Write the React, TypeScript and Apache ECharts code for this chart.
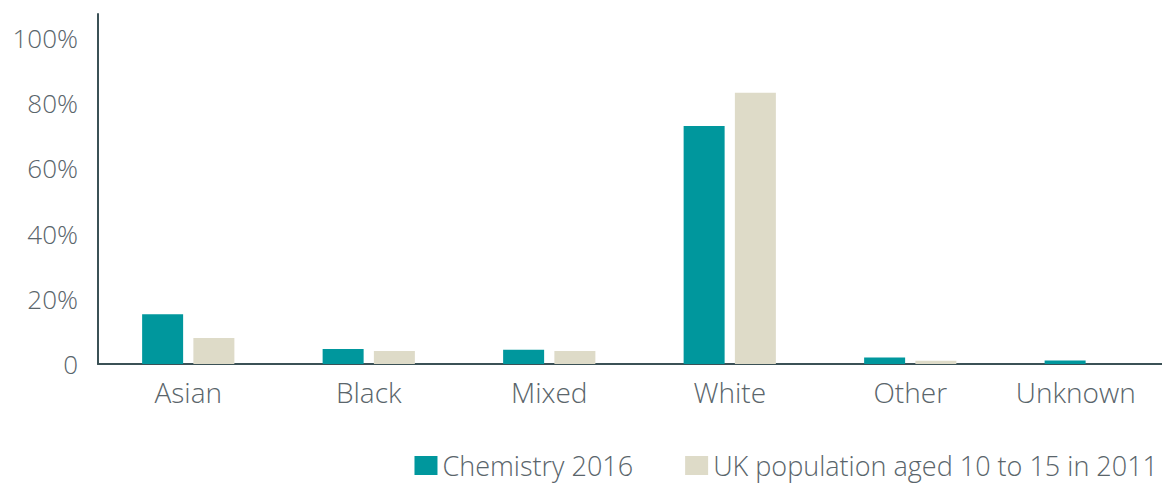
import React, { useEffect, useRef } from "react";
import * as echarts from "echarts";

const categories = ["Asian", "Black", "Mixed", "White", "Other", "Unknown"];
const chemistry2016 = [15.3, 4.6, 4.4, 73.0, 2.0, 1.1];
const ukPopulation = [8.0, 4.0, 4.0, 83.2, 1.0, 0];
const seriesNames = ["Chemistry 2016", "UK population aged 10 to 15 in 2011"];

const FONT = "Open Sans";
const TEXT = "#5a656b";

export default function App() {
  const ref = useRef<HTMLDivElement>(null);
  useEffect(() => {
    if (!ref.current) return;
    const chart = echarts.init(ref.current, undefined, { renderer: "svg" });
    chart.setOption({
      animation: false,
      grid: { left: 98, width: 1083, top: 14, bottom: 120, containLabel: false, outerBoundsMode: "none" },
      legend: {
        right: -1,
        bottom: 0,
        itemWidth: 23,
        itemHeight: 19,
        itemGap: 52,
        icon: "rect",
        textStyle: { fontFamily: FONT, fontSize: 27, lineHeight: 20, fontWeight: 300, color: TEXT, padding: [0, 0, 0, 0] },
        data: seriesNames,
      },
      xAxis: {
        type: "category",
        data: categories.map((c, i) =>
          i === categories.length - 1 ? { value: c, textStyle: { padding: [0, 30, 0, 0] } } : c
        ),
        axisLine: { show: true, lineStyle: { color: "#3b5156", width: 2 } },
        axisTick: { show: false },
        axisLabel: { fontFamily: FONT, fontSize: 28, fontWeight: 300, color: TEXT, margin: 14 },
      },
      yAxis: {
        type: "value",
        min: 0,
        max: 107.4,
        interval: 20,
        axisLine: { show: true, lineStyle: { color: "#3b5156", width: 2 } },
        axisTick: { show: false },
        splitLine: { show: false },
        axisLabel: {
          showMaxLabel: false,
          fontFamily: FONT,
          fontSize: 26,
          fontWeight: 300,
          color: TEXT,
          margin: 20,
          formatter: (v: number) => (v === 0 ? "0" : `${v}%`),
        },
      },
      series: [
        {
          name: seriesNames[0],
          type: "bar",
          data: chemistry2016,
          barWidth: 41,
          barGap: "25%",
          itemStyle: { color: "#00979d" },
        },
        {
          name: seriesNames[1],
          type: "bar",
          data: ukPopulation,
          barWidth: 41,
          itemStyle: { color: "#dedbc8" },
        },
      ],
    });
    return () => chart.dispose();
  }, []);
  return <div ref={ref} style={{ width: 1162, height: 484, position: "absolute", left: 0, top: 0, overflow: "hidden" }} />;
}
